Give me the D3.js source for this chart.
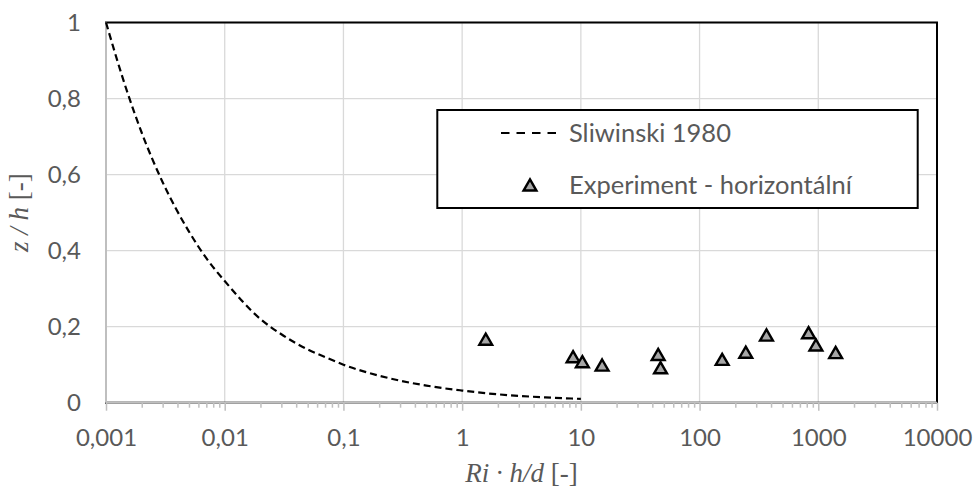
<!DOCTYPE html>
<html>
<head>
<meta charset="utf-8">
<script src="https://cdn.jsdelivr.net/npm/d3@7"></script>
<style>
  html, body { margin: 0; padding: 0; background: #fff; }
  svg { display: block; }
</style>
</head>
<body>
<svg id="chart" width="976" height="491"></svg>
<script>
// ---- data ----
const xTickValues = [0.001, 0.01, 0.1, 1, 10, 100, 1000, 10000];
const xTickLabels = ["0,001", "0,01", "0,1", "1", "10", "100", "1000", "10000"];
const yTickValues = [0, 0.2, 0.4, 0.6, 0.8, 1];
const yTickLabels = ["0", "0,2", "0,4", "0,6", "0,8", "1"];

const sliwinskiX = [0.001, 0.0015, 0.002, 0.003, 0.005, 0.007, 0.01, 0.02, 0.03, 0.05, 0.07, 0.1, 0.2, 0.3, 0.5, 0.7, 1, 2, 3, 5, 7, 10];
const sliwinskiY = [1.0, 0.82, 0.71, 0.58, 0.45, 0.38, 0.32, 0.22, 0.18, 0.14, 0.12, 0.10, 0.071, 0.058, 0.045, 0.038, 0.032, 0.022, 0.018, 0.014, 0.012, 0.010];

const expX = [1.58, 8.6, 10.3, 15.1, 44.8, 46.9, 155, 245, 366, 828, 955, 1400];
const expY = [0.167, 0.121, 0.108, 0.099, 0.127, 0.092, 0.114, 0.133, 0.178, 0.184, 0.152, 0.132];

const seriesNames = ["Sliwinski 1980", "Experiment - horizontální"];

// ---- layout ----
const svg = d3.select("#chart");
const L = 106, R = 937, T = 22.5, B = 402.7;
const x = d3.scaleLog().domain([0.001, 10000]).range([L, R]);
const y = d3.scaleLinear().domain([0, 1]).range([B, T]);
const textColor = "#595959";
const sansFont = "Lato, 'Open Sans', sans-serif";
const serifFont = "'Liberation Serif', 'DejaVu Serif', serif";

// gridlines
const gridG = svg.append("g").attr("stroke", "#d9d9d9").attr("stroke-width", 1.3);
gridG.selectAll("line.v").data(xTickValues).join("line")
  .attr("x1", d => x(d)).attr("x2", d => x(d)).attr("y1", T).attr("y2", B);
gridG.selectAll("line.h").data(yTickValues).join("line")
  .attr("x1", L).attr("x2", R).attr("y1", d => y(d)).attr("y2", d => y(d));

// plot border (top/right black)
svg.append("rect").attr("x", L).attr("y", T).attr("width", R - L).attr("height", B - T)
  .attr("fill", "none").attr("stroke", "#000").attr("stroke-width", 2);

// x axis with minor ticks
const minorTicks = [];
for (let e = -3; e < 4; e++) for (let m = 2; m <= 9; m++) minorTicks.push(m * Math.pow(10, e));
const xAxisG = svg.append("g").attr("transform", `translate(0,${B})`);
xAxisG.call(d3.axisBottom(x).tickValues(minorTicks).tickSize(5).tickFormat(""));
xAxisG.append("g").call(d3.axisBottom(x).tickValues(xTickValues).tickSize(8)
  .tickFormat((d, i) => xTickLabels[i]).tickPadding(18));
xAxisG.selectAll("path.domain").remove();
xAxisG.selectAll("line").attr("stroke", "#bfbfbf").attr("stroke-width", 1.5);
xAxisG.append("line").attr("x1", L).attr("x2", R).attr("y1", 0).attr("y2", 0)
  .attr("stroke", "#bfbfbf").attr("stroke-width", 2);
xAxisG.selectAll("text").attr("font-family", sansFont).attr("font-size", 24)
  .attr("fill", textColor);

// y axis
const yAxisG = svg.append("g").attr("transform", `translate(${L},0)`);
yAxisG.call(d3.axisLeft(y).tickValues(yTickValues).tickSize(0)
  .tickFormat((d, i) => yTickLabels[i]).tickPadding(25));
yAxisG.select("path.domain").remove();
yAxisG.append("line").attr("x1", 0).attr("x2", 0).attr("y1", T).attr("y2", B)
  .attr("stroke", "#bfbfbf").attr("stroke-width", 2);
yAxisG.selectAll("text").attr("font-family", sansFont).attr("font-size", 24)
  .attr("fill", textColor);

// axis titles
const xt = svg.append("text").attr("x", (L + R) / 2).attr("y", 482)
  .attr("text-anchor", "middle").attr("font-family", serifFont).attr("font-size", 27)
  .attr("fill", textColor);
xt.append("tspan").attr("font-style", "italic").text("Ri · h/d");
xt.append("tspan").text(" [-]");

const yt = svg.append("text").attr("transform", `translate(28,${(T + B) / 2}) rotate(-90)`)
  .attr("text-anchor", "middle").attr("font-family", serifFont).attr("font-size", 27)
  .attr("fill", textColor);
yt.append("tspan").attr("font-style", "italic").text("z / h");
yt.append("tspan").text(" [-]");

// Sliwinski curve
const curveData = sliwinskiX.map((v, i) => [v, sliwinskiY[i]]);
const line = d3.line().x(d => x(d[0])).y(d => y(d[1])).curve(d3.curveMonotoneX);
svg.append("path").datum(curveData).attr("d", line)
  .attr("fill", "none").attr("stroke", "#000").attr("stroke-width", 2.2)
  .attr("stroke-dasharray", "7,4");

// triangle symbol centred on its bounding box
const triBox = {
  draw(ctx, size) {
    const s = Math.sqrt(size);
    const h = s * Math.sqrt(3) / 2;
    ctx.moveTo(0, -h / 2);
    ctx.lineTo(s / 2, h / 2);
    ctx.lineTo(-s / 2, h / 2);
    ctx.closePath();
  }
};
const tri = d3.symbol().type(triBox).size(165);
const expData = expX.map((v, i) => [v, expY[i]]);
svg.append("g").selectAll("path").data(expData).join("path")
  .attr("d", tri)
  .attr("transform", d => `translate(${x(d[0])},${y(d[1])})`)
  .attr("fill", "#a6a6a6").attr("stroke", "#000").attr("stroke-width", 2.4)
  .attr("stroke-linejoin", "miter");

// legend
const lg = svg.append("g");
lg.append("rect").attr("x", 437.3).attr("y", 110).attr("width", 480.4).attr("height", 98)
  .attr("fill", "#fff").attr("stroke", "#000").attr("stroke-width", 2);
lg.append("line").attr("x1", 501).attr("x2", 557).attr("y1", 133).attr("y2", 133)
  .attr("stroke", "#000").attr("stroke-width", 2.2).attr("stroke-dasharray", "8.5,7");
lg.append("path").attr("d", tri).attr("transform", "translate(530,185)")
  .attr("fill", "#a6a6a6").attr("stroke", "#000").attr("stroke-width", 2.4);
lg.selectAll("text").data(seriesNames).join("text")
  .attr("x", 569).attr("y", (d, i) => i === 0 ? 142 : 194)
  .attr("font-family", sansFont).attr("font-size", 25.5).attr("fill", textColor)
  .text(d => d);
</script>
</body>
</html>
